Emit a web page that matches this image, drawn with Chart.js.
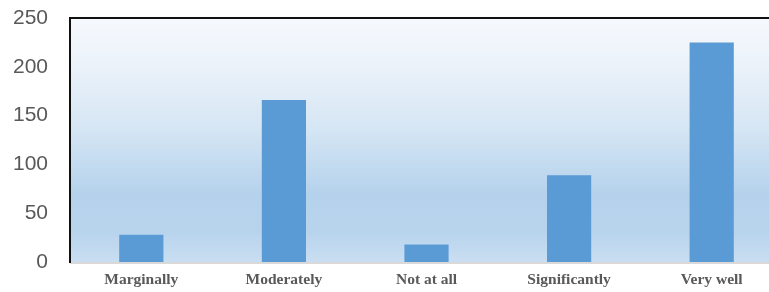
<!DOCTYPE html>
<html>
<head>
<meta charset="utf-8">
<script src="https://cdn.jsdelivr.net/npm/chart.js@4"></script>
<style>
html,body{margin:0;padding:0;background:#fff;overflow:hidden;width:769px;height:292px;}
#wrap{width:783px;height:292px;position:relative;}
</style>
</head>
<body>
<div id="wrap"><canvas id="c"></canvas></div>
<script>
const categories = ["Marginally", "Moderately", "Not at all", "Significantly", "Very well"];
const values = [28, 166, 18, 89, 225];
const yTicks = [0, 50, 100, 150, 200, 250];

const bgPlugin = {
  id: 'bgPlugin',
  beforeDatasetsDraw(chart) {
    const {ctx, chartArea: a} = chart;
    ctx.save();
    const g = ctx.createLinearGradient(0, a.top, 0, a.bottom);
    g.addColorStop(0, '#f6f9fd');
    g.addColorStop(0.15, '#eef4fb');
    g.addColorStop(0.45, '#d6e6f4');
    g.addColorStop(0.72, '#b5d2ec');
    g.addColorStop(0.88, '#b8d4ed');
    g.addColorStop(1, '#c9def1');
    ctx.fillStyle = g;
    ctx.fillRect(a.left, a.top, a.right - a.left, a.bottom - a.top);
    ctx.lineWidth = 2;
    ctx.strokeStyle = '#d9d9d9';
    ctx.beginPath();
    ctx.moveTo(a.left, a.bottom + 1);
    ctx.lineTo(a.right, a.bottom + 1);
    ctx.stroke();
    ctx.strokeStyle = '#111111';
    ctx.beginPath();
    ctx.moveTo(a.left, a.bottom + 1);
    ctx.lineTo(a.left, a.top);
    ctx.lineTo(a.right, a.top);
    ctx.stroke();
    ctx.restore();
  }
};

new Chart(document.getElementById('c'), {
  type: 'bar',
  data: {
    labels: categories,
    datasets: [{
      data: values,
      backgroundColor: '#5b9bd5',
      borderWidth: 0,
      barPercentage: 0.31,
      categoryPercentage: 1.0
    }]
  },
  options: {
    responsive: true,
    maintainAspectRatio: false,
    animation: false,
    events: [],
    layout: { padding: { top: 18, right: 0, bottom: 0, left: 0 } },
    plugins: { legend: { display: false }, tooltip: { enabled: false } },
    scales: {
      x: {
        afterFit(s) { s.height = 30; s.paddingLeft = 0; s.paddingRight = 0; s.paddingTop = 0; s.paddingBottom = 0; },
        grid: { display: false, drawTicks: false },
        border: { display: false },
        ticks: {
          color: '#595959',
          padding: 9,
          maxRotation: 0,
          autoSkip: false,
          font: { family: 'Liberation Serif', size: 15.5, weight: 'bold' }
        }
      },
      y: {
        min: 0,
        max: 250,
        afterBuildTicks(scale) { scale.ticks = yTicks.map(v => ({ value: v })); },
        afterFit(s) { s.width = 70; s.paddingTop = 0; s.paddingBottom = 0; s.paddingLeft = 0; s.paddingRight = 0; },
        grid: { display: false, drawTicks: false },
        border: { display: false },
        ticks: {
          color: '#595959',
          padding: 22,
          font: { family: 'Liberation Sans', size: 21 }
        }
      }
    }
  },
  plugins: [bgPlugin]
});
</script>
</body>
</html>
